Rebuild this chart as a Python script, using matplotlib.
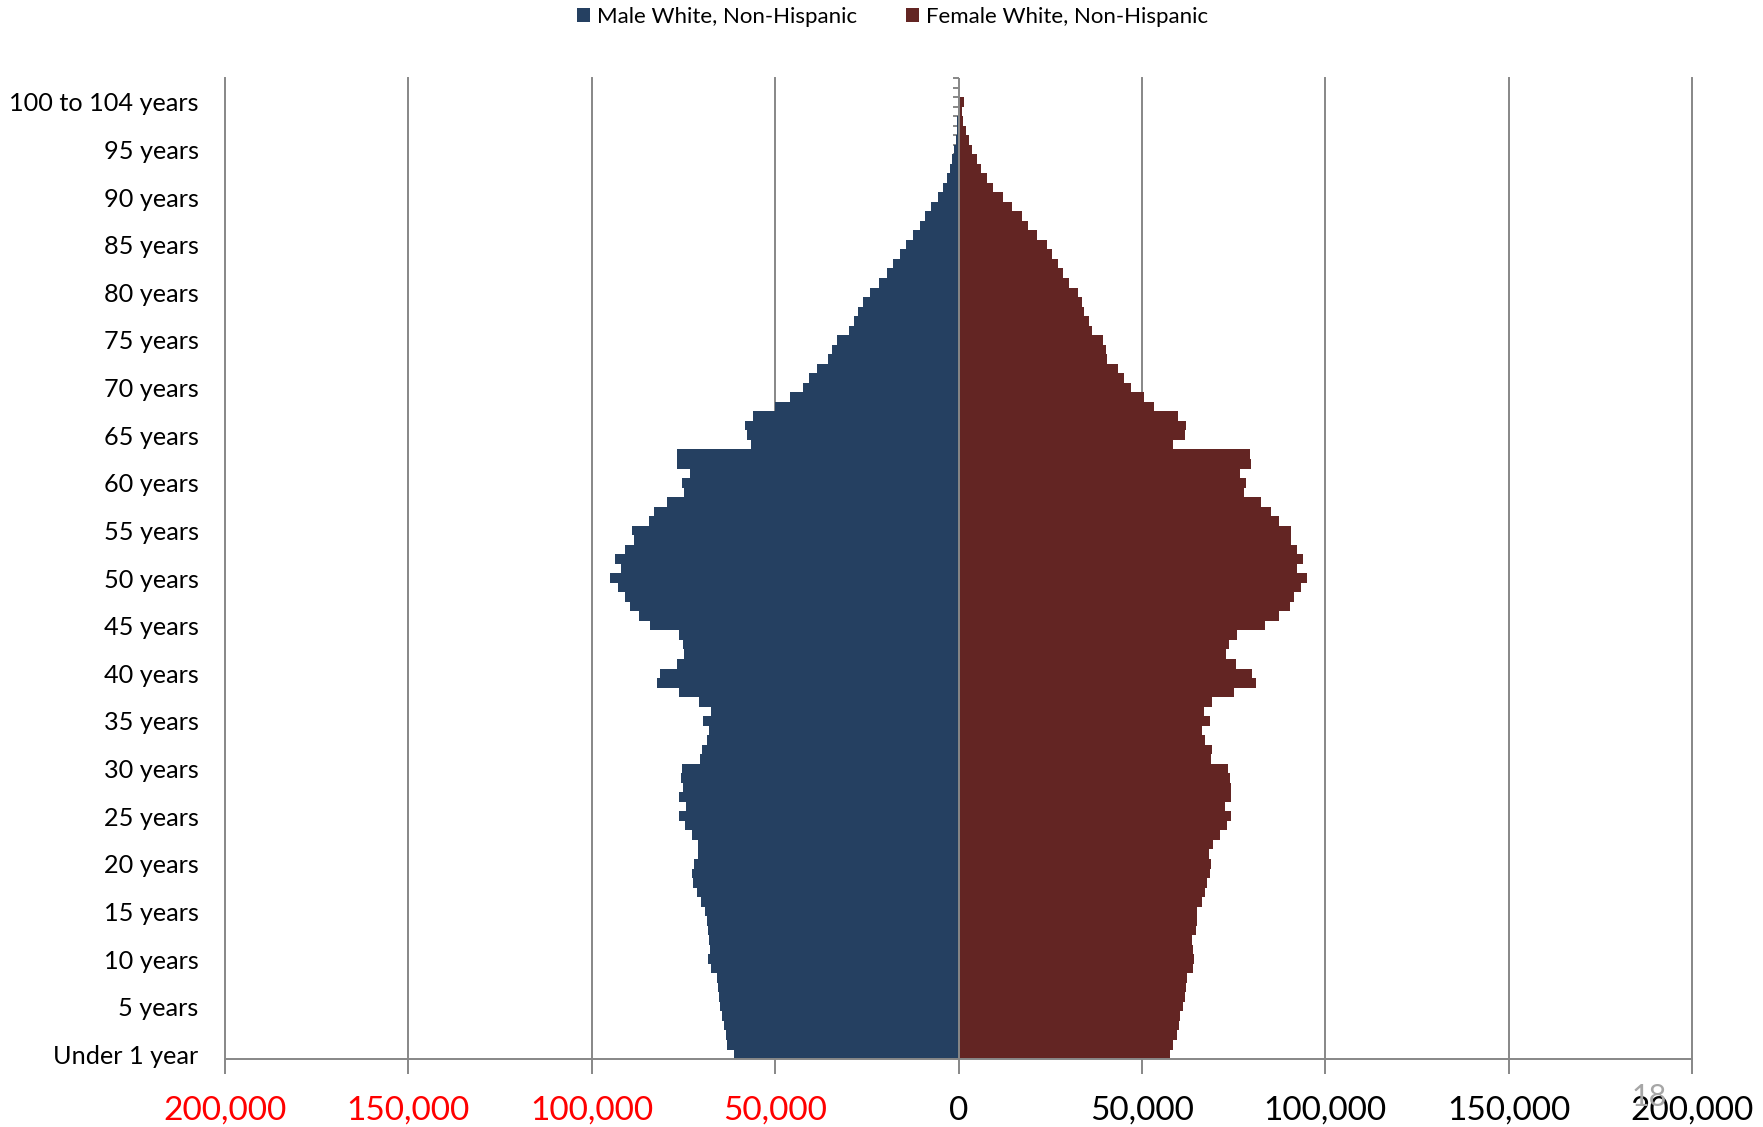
import numpy as np
import matplotlib.pyplot as plt
from matplotlib.ticker import FuncFormatter

plt.rcParams['font.family'] = ['Lato', 'DejaVu Sans']

# age groups, bottom to top (the last two rows are empty in the source)
ages = (["Under 1 year", "1 year"] + [f"{i} years" for i in range(2, 100)]
        + ["100 to 104 years", "105 to 109 years", "110 years and over"])

# population in thousands
male_k = [61.3, 63.1, 63.5, 64.0, 64.4, 65.0, 65.4, 65.7, 65.8, 67.5,
          68.3, 67.8, 67.9, 68.2, 68.6, 69.0, 70.3, 71.4, 72.4, 72.6,
          72.1, 71.0, 71.1, 72.8, 74.6, 76.2, 74.2, 76.1, 75.0, 75.8,
          75.4, 70.6, 69.9, 68.5, 67.9, 69.7, 67.4, 70.7, 76.2, 82.2,
          81.5, 76.7, 74.9, 75.1, 76.1, 84.0, 87.2, 89.7, 90.8, 92.9,
          95.1, 91.9, 93.6, 91.0, 88.6, 89.0, 84.3, 83.1, 79.6, 74.9,
          75.3, 73.1, 76.7, 76.7, 56.7, 57.8, 58.3, 56.1, 50.1, 46.0,
          42.5, 40.8, 38.5, 35.7, 34.4, 33.2, 29.9, 28.6, 27.4, 26.1,
          24.2, 21.8, 19.6, 17.9, 16.0, 14.4, 12.4, 10.6, 9.2, 7.4,
          5.7, 4.15, 3.1, 2.4, 1.7, 1.15, 0.75, 0.48, 0.3, 0.2,
          0.25, 0.0, 0.0]
female_k = [57.6, 58.5, 59.6, 60.1, 60.4, 61.1, 61.7, 62.1, 62.4, 63.9,
            64.3, 64.0, 63.6, 64.7, 64.9, 65.1, 66.4, 67.2, 67.8, 68.6,
            68.75, 68.3, 69.3, 71.3, 73.3, 74.3, 72.6, 74.4, 74.2, 73.9,
            73.5, 68.75, 69.2, 67.1, 66.25, 68.5, 66.8, 69.2, 75.0, 81.0,
            80.1, 75.7, 72.9, 73.6, 75.8, 83.6, 87.5, 90.4, 91.5, 93.5,
            95.0, 92.2, 94.0, 92.2, 90.7, 90.7, 87.5, 85.3, 82.4, 77.9,
            78.3, 76.7, 79.7, 79.4, 58.5, 61.7, 62.0, 59.7, 53.3, 50.6,
            46.9, 45.1, 43.6, 40.4, 40.1, 39.4, 36.25, 35.6, 34.2, 33.6,
            32.6, 30.1, 28.5, 27.1, 25.4, 24.0, 21.5, 18.9, 17.4, 14.7,
            12.0, 9.45, 7.85, 6.2, 4.9, 3.75, 2.8, 1.95, 1.2, 0.95,
            1.4, 0.0, 0.0]

xticks = [-200000, -150000, -100000, -50000, 0, 50000, 100000, 150000, 200000]

male = np.array(male_k) * 1000
female = np.array(female_k) * 1000
y = np.arange(len(ages))
grey = '#878787'

fig = plt.figure(figsize=(17.63, 11.27), dpi=100)
ax = fig.add_axes([0.1276, 0.0603, 0.8322, 0.8705])

ax.barh(y, -male, height=1.0, color='#254061', label='Male White, Non-Hispanic', zorder=2)
ax.barh(y, female, height=1.0, color='#632523', label='Female White, Non-Hispanic', zorder=2)

ax.set_xlim(-200000, 200000)
ax.set_ylim(-0.5, len(ages) - 0.5)

for xv in xticks:
    if xv != 0:
        ax.axvline(xv, color=grey, lw=1.4, zorder=0, clip_on=False)
ax.axvline(0, color=grey, lw=1.4, zorder=3)

for s in ['top', 'right', 'left']:
    ax.spines[s].set_visible(False)
ax.spines['bottom'].set_color(grey)
ax.spines['bottom'].set_linewidth(1.4)

ax.set_xticks(xticks)
ax.xaxis.set_major_formatter(FuncFormatter(lambda v, p: f"{abs(int(v)):,}"))
ax.tick_params(axis='x', length=10.5, width=1.4, color=grey, pad=16, labelsize=24)
for lab, v in zip(ax.get_xticklabels(), xticks):
    lab.set_color('red' if v < 0 else 'black')

ax.set_yticks(y[::5][:21])
ax.set_yticklabels([ages[i] for i in y[::5][:21]])
ax.tick_params(axis='y', length=0, pad=19, labelsize=18.2)

# small tick marks on the centre axis, one per age row
sec = ax.secondary_yaxis(0.5)
sec.set_alignment('left')
sec.set_yticks(np.arange(-0.5, len(ages)))
sec.set_yticklabels([])
sec.tick_params(length=4.5, width=1.4, color=grey, direction='out')
sec.spines['left'].set_visible(False)
sec.spines['right'].set_visible(False)

fig.legend(loc='center', bbox_to_anchor=(0.506, 0.985), ncol=2, frameon=False,
           fontsize=16, handlelength=0.6, handleheight=0.6, handletextpad=0.3,
           columnspacing=2.2)

fig.text(0.9356, 0.027, "18", color='#A6A6A6', fontsize=22, ha='center', va='center')

fig.savefig('out.png', dpi=100)
